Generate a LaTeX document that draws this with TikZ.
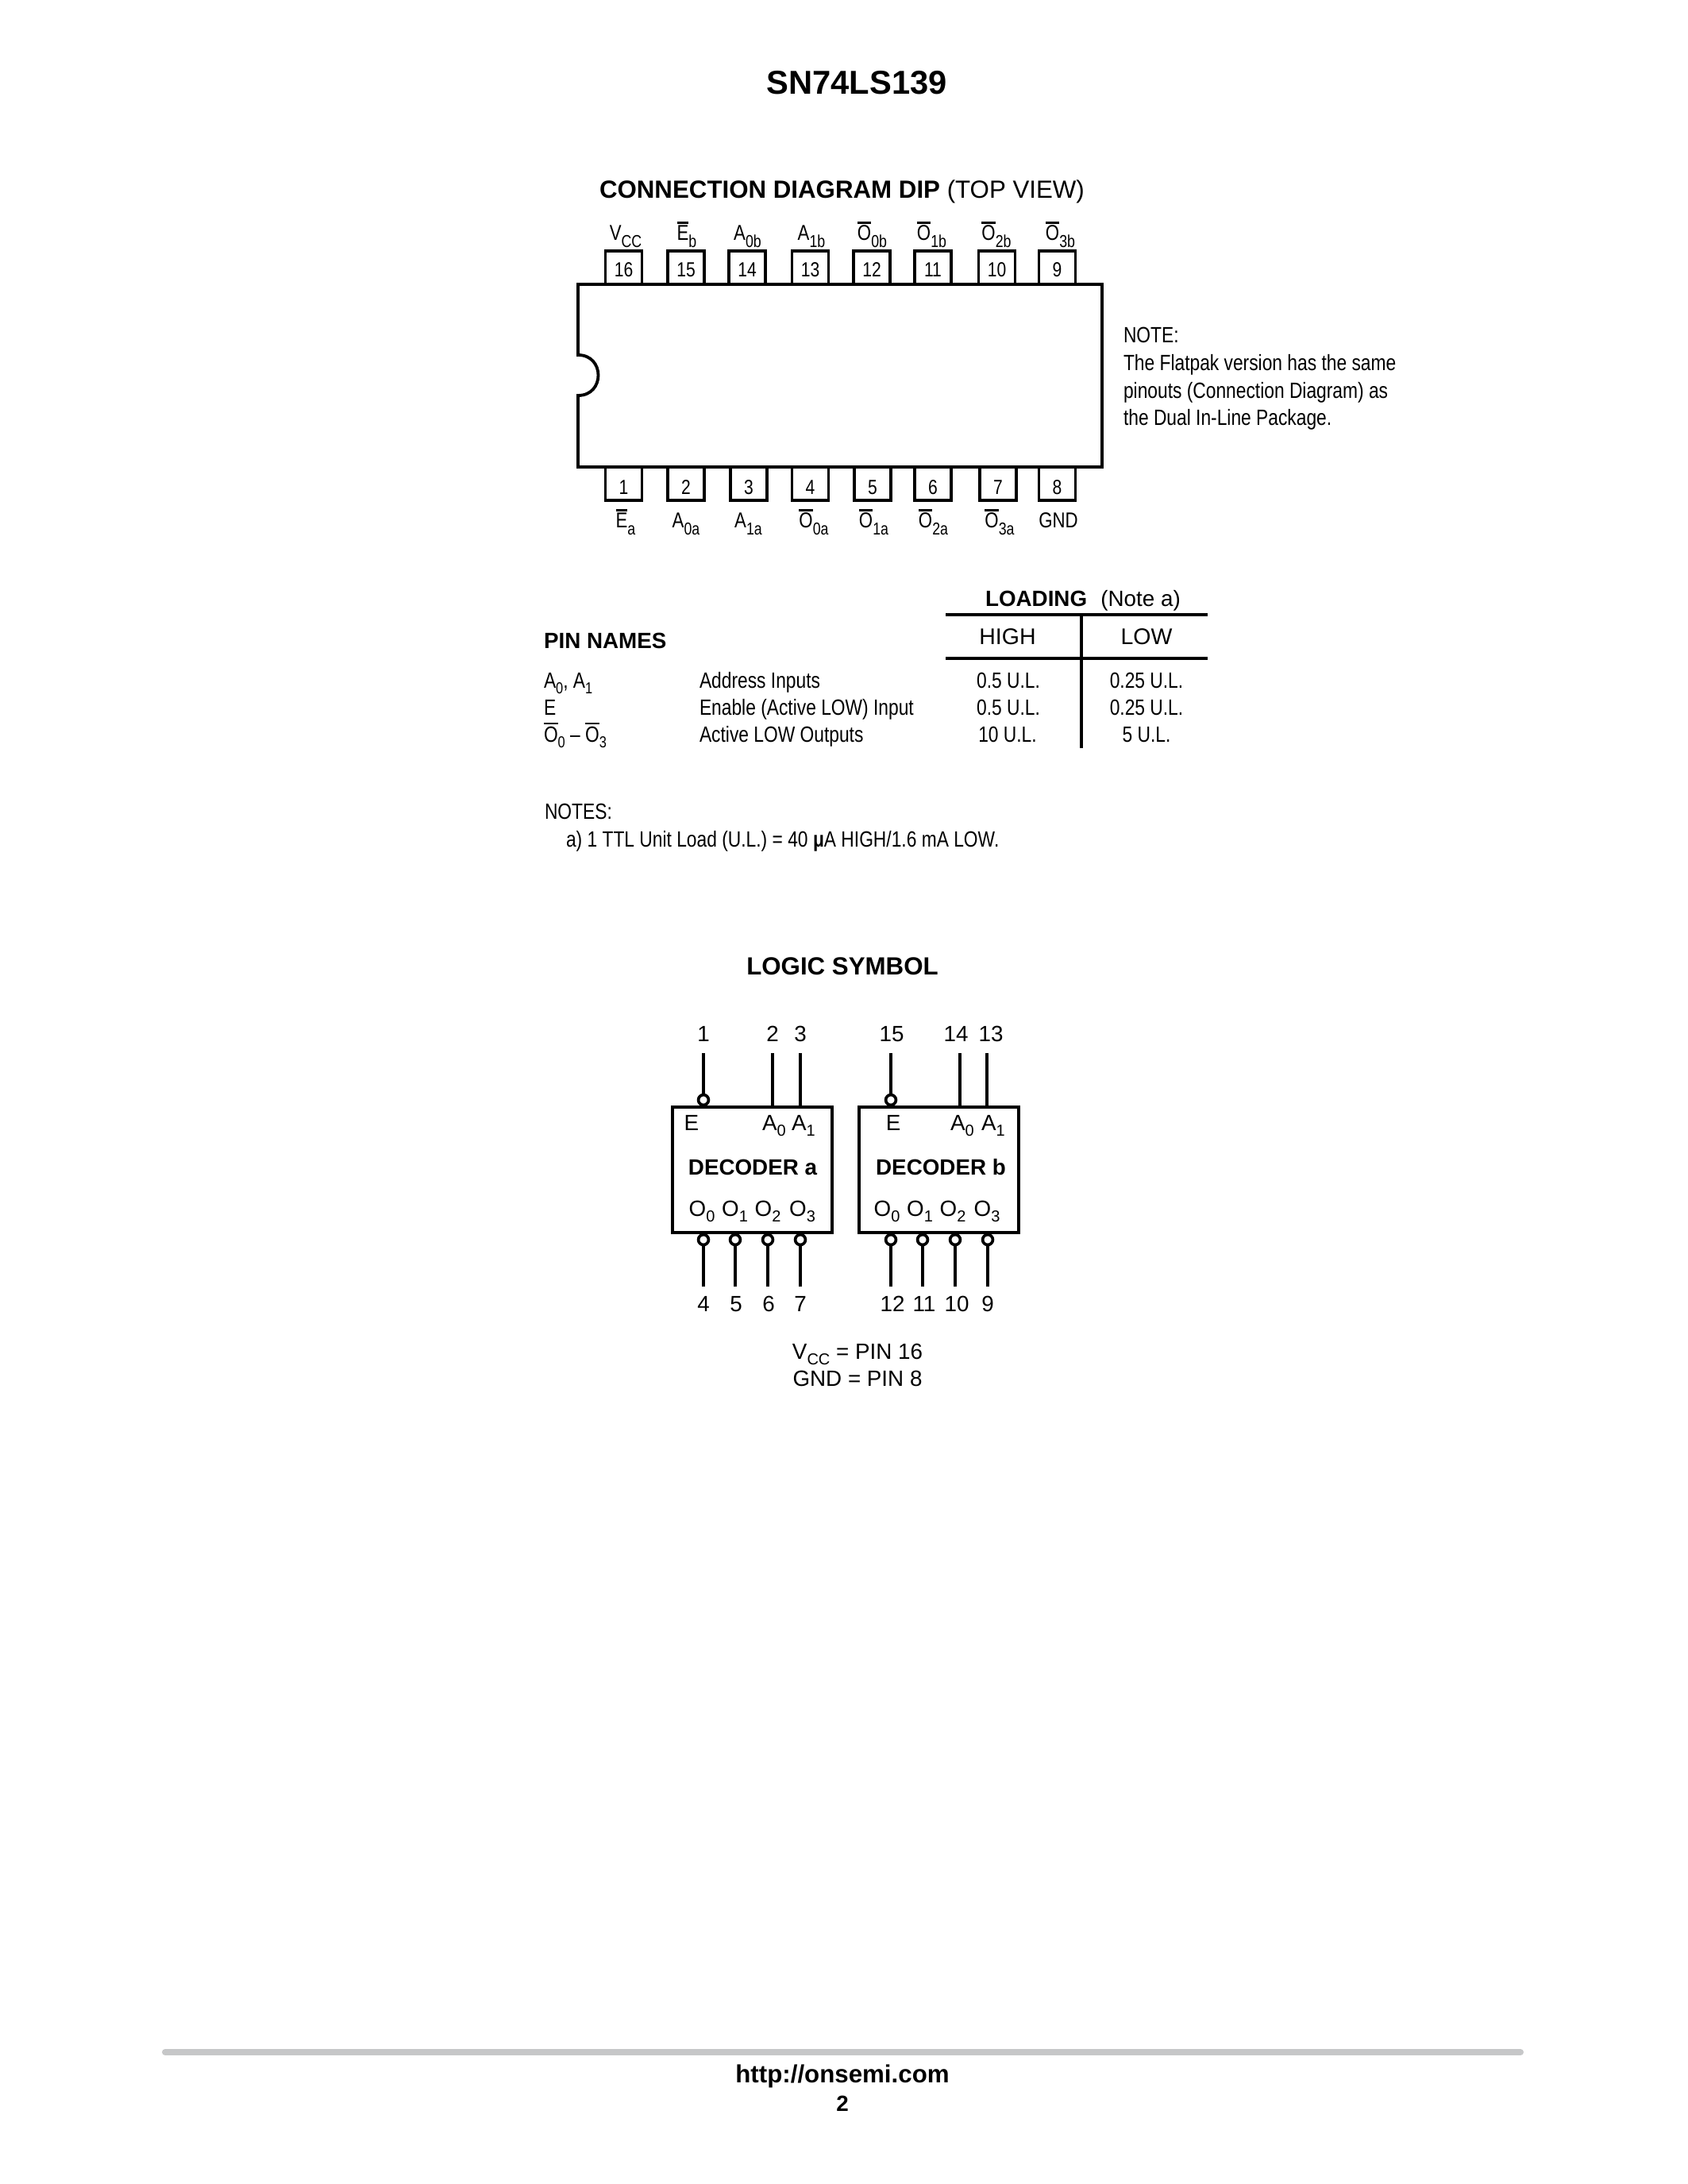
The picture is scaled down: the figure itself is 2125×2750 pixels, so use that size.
\documentclass[tikz,border=0pt]{standalone}
\usepackage{fontspec}
\setmainfont{Liberation Sans}
\newfontfamily\narrowfont[FakeStretch=0.82]{Liberation Sans}
\usepackage{tikz}
\usetikzlibrary{positioning}
\definecolor{rulegray}{HTML}{C6C7C8}
\newcommand{\ovl}[1]{\vbox{\hrule height 0.75pt\kern 0.7pt\hbox{#1}}}
\newcommand{\lowtxt}[1]{\raisebox{-0.27em}{\scalebox{0.72}{#1}}}
\newcommand{\lowname}[1]{\raisebox{-0.3em}{\scalebox{0.8}{#1}}}
\tikzset{
  plain text/.style={inner sep=0pt,outer sep=0pt,anchor=base west},
  mid text/.style={inner sep=0pt,outer sep=0pt,anchor=base},
  head text/.style={plain text,font=\fontsize{9bp}{9bp}\selectfont},
  pin name/.style={mid text,font=\narrowfont\fontsize{7.8bp}{7.8bp}\selectfont},
  small text/.style={plain text,font=\narrowfont\fontsize{8bp}{8bp}\selectfont},
  load text/.style={mid text,font=\narrowfont\fontsize{8bp}{8bp}\selectfont},
  sym text/.style={mid text,font=\fontsize{8bp}{8bp}\selectfont},
  pin box/.style={draw,line width=1.05bp,rectangle,minimum width=13.2bp,minimum height=12.6bp,inner sep=0pt,outer sep=0pt,text depth=0pt,font=\narrowfont\fontsize{7.4bp}{7.4bp}\selectfont},
  up pin/.style={pin box,text height=6.2bp},
  down pin/.style={pin box,text height=8.1bp},
  decoder box/.style={draw,line width=1.2bp,rectangle,minimum width=57.8bp,minimum height=45.4bp,inner sep=0pt,outer sep=0pt},
  bubble/.style={draw,line width=1.05bp,circle,fill=white,minimum size=3.7bp,inner sep=0pt,outer sep=0pt},
  signal/.style={line width=1.1bp}
}
\begin{document}
\begin{tikzpicture}[x=0.004in,y=-0.004in]
  \useasboundingbox (0,0) rectangle (2125,2750);

  % titles
  \node[mid text,font=\bfseries\fontsize{12bp}{12bp}\selectfont] (title) at (1079,119) {SN74LS139};
  \node[head text] (conntitle) at (755,250) {\textbf{CONNECTION DIAGRAM DIP} (TOP VIEW)};

  % dip pins, top row
  \node[up pin] (p16) at (785.5,338) {16};
  \node[up pin] (p15) at (864,338) {15};
  \node[up pin] (p14) at (941,338) {14};
  \node[up pin] (p13) at (1020.5,338) {13};
  \node[up pin] (p12) at (1098,338) {12};
  \node[up pin] (p11) at (1175,338) {11};
  \node[up pin] (p10) at (1255.5,338) {10};
  \node[up pin] (p9) at (1331.5,338) {9};

  % dip pins, bottom row
  \node[down pin] (p1) at (785.5,608) {1};
  \node[down pin] (p2) at (864,608) {2};
  \node[down pin] (p3) at (943,608) {3};
  \node[down pin] (p4) at (1020.5,608) {4};
  \node[down pin] (p5) at (1099,608) {5};
  \node[down pin] (p6) at (1175,608) {6};
  \node[down pin] (p7) at (1257,608) {7};
  \node[down pin] (p8) at (1331.5,608) {8};

  % package body
  \draw[line width=1.1bp,fill=white,line join=miter] (728,358) -- (1388,358) -- (1388,588) -- (728,588) -- (728,498)
    .. controls (762,498) and (762,447) .. (728,447) -- cycle;

  % pin names, top
  \node[pin name] (nvcc) at (788,303) {V\lowname{CC}};
  \node[pin name] (neb) at (865,303) {\ovl{E}\lowname{b}};
  \node[pin name] (na0b) at (941.5,303) {A\lowname{0b}};
  \node[pin name] (na1b) at (1022,303) {A\lowname{1b}};
  \node[pin name] (no0b) at (1098.5,303) {\ovl{O}\lowname{0b}};
  \node[pin name] (no1b) at (1173.5,303) {\ovl{O}\lowname{1b}};
  \node[pin name] (no2b) at (1255,303) {\ovl{O}\lowname{2b}};
  \node[pin name] (no3b) at (1335.5,303) {\ovl{O}\lowname{3b}};

  % pin names, bottom
  \node[pin name] (nea) at (788,665) {\ovl{E}\lowname{a}};
  \node[pin name] (na0a) at (864,665) {A\lowname{0a}};
  \node[pin name] (na1a) at (942.5,665) {A\lowname{1a}};
  \node[pin name] (no0a) at (1025,665) {\ovl{O}\lowname{0a}};
  \node[pin name] (no1a) at (1100.5,665) {\ovl{O}\lowname{1a}};
  \node[pin name] (no2a) at (1175.5,665) {\ovl{O}\lowname{2a}};
  \node[pin name] (no3a) at (1259,665) {\ovl{O}\lowname{3a}};
  \node[pin name] (ngnd) at (1333,665) {GND};

  % flatpak note
  \node[small text] (note0) at (1415,432) {NOTE:};
  \node[small text] (note1) at (1415,467) {The Flatpak version has the same};
  \node[small text] (note2) at (1415,502) {pinouts (Connection Diagram) as};
  \node[small text] (note3) at (1415,536) {the Dual In-Line Package.};

  % loading table
  \coordinate (lt1) at (1191,774);
  \coordinate (rt1) at (1521,774);
  \coordinate (lt2) at (1191,829);
  \coordinate (rt2) at (1521,829);
  \coordinate (vt) at (1362,774);
  \coordinate (vb) at (1362,942);
  \path[draw,line width=1.05bp]
    (lt1) edge (rt1)
    (lt2) edge (rt2)
    (vt) edge (vb);
  \node[head text,font=\fontsize{8bp}{8bp}\selectfont] (loading) at (1241,763) {\textbf{LOADING}\hspace{0.62em}(Note a)};
  \node[mid text,font=\fontsize{8.2bp}{8.2bp}\selectfont] (high) at (1269,812) {HIGH};
  \node[mid text,font=\fontsize{8.2bp}{8.2bp}\selectfont] (low) at (1444,812) {LOW};
  \node[head text,font=\bfseries\fontsize{8bp}{8bp}\selectfont] (pinnames) at (685,816) {PIN NAMES};

  \node[small text] (r1a) at (685,866) {A\lowtxt{0}, A\lowtxt{1}};
  \node[small text] (r1b) at (881,866) {Address Inputs};
  \node[load text] (r1c) at (1270,866) {0.5 U.L.};
  \node[load text] (r1d) at (1444,866) {0.25 U.L.};
  \node[small text] (r2a) at (685,900) {E};
  \node[small text] (r2b) at (881,900) {Enable (Active LOW) Input};
  \node[load text] (r2c) at (1270,900) {0.5 U.L.};
  \node[load text] (r2d) at (1444,900) {0.25 U.L.};
  \node[small text] (r3a) at (685,934) {\ovl{O}\lowtxt{0} – \ovl{O}\lowtxt{3}};
  \node[small text] (r3b) at (881,934) {Active LOW Outputs};
  \node[load text] (r3c) at (1269,934) {10 U.L.};
  \node[load text] (r3d) at (1444,934) {5 U.L.};

  \node[small text] (notes) at (686,1031) {NOTES:};
  \node[small text] (notea) at (713,1066) {a) 1 TTL Unit Load (U.L.) = 40 \textbf{μ}A HIGH/1.6 mA LOW.};

  % logic symbol
  \node[mid text,font=\bfseries\fontsize{9bp}{9bp}\selectfont] (logic) at (1061,1227) {LOGIC SYMBOL};
  \node[decoder box] (deca) at (947.5,1473) {};
  \node[decoder box] (decb) at (1182.5,1473) {};

  \node[bubble] (bea) at (886,1385) {};
  \node[bubble] (bo0a) at (886,1561) {};
  \node[bubble] (bo1a) at (926,1561) {};
  \node[bubble] (bo2a) at (967,1561) {};
  \node[bubble] (bo3a) at (1008,1561) {};
  \node[bubble] (beb) at (1122,1385) {};
  \node[bubble] (bo0b) at (1122,1561) {};
  \node[bubble] (bo1b) at (1162,1561) {};
  \node[bubble] (bo2b) at (1203,1561) {};
  \node[bubble] (bo3b) at (1244,1561) {};

  \coordinate (t1) at (886,1326);
  \coordinate (t2) at (973,1326);
  \coordinate (t3) at (1008,1326);
  \coordinate (t15) at (1122,1326);
  \coordinate (t14) at (1209,1326);
  \coordinate (t13) at (1243,1326);
  \coordinate (t4) at (886,1620);
  \coordinate (t5) at (926,1620);
  \coordinate (t6) at (967,1620);
  \coordinate (t7) at (1008,1620);
  \coordinate (t12) at (1122,1620);
  \coordinate (t11) at (1162,1620);
  \coordinate (t10) at (1203,1620);
  \coordinate (t9) at (1244,1620);

  \path[draw,signal]
    (t1) edge (bea)
    (t2) edge (t2 |- deca.north)
    (t3) edge (t3 |- deca.north)
    (t15) edge (beb)
    (t14) edge (t14 |- decb.north)
    (t13) edge (t13 |- decb.north)
    (bo0a) edge (t4)
    (bo1a) edge (t5)
    (bo2a) edge (t6)
    (bo3a) edge (t7)
    (bo0b) edge (t12)
    (bo1b) edge (t11)
    (bo2b) edge (t10)
    (bo3b) edge (t9);

  \node[sym text] (l1) at (886,1311) {1};
  \node[sym text] (l2) at (973,1311) {2};
  \node[sym text] (l3) at (1008,1311) {3};
  \node[sym text] (l15) at (1123,1311) {15};
  \node[sym text] (l14) at (1204,1311) {14};
  \node[sym text] (l13) at (1248,1311) {13};
  \node[sym text] (l4) at (886,1651) {4};
  \node[sym text] (l5) at (927,1651) {5};
  \node[sym text] (l6) at (968,1651) {6};
  \node[sym text] (l7) at (1008,1651) {7};
  \node[sym text] (l12) at (1124,1651) {12};
  \node[sym text] (l11) at (1164,1651) {11};
  \node[sym text] (l10) at (1205,1651) {10};
  \node[sym text] (l9) at (1244,1651) {9};

  \node[sym text] (ea) at (871,1423) {E};
  \node[sym text] (a0a) at (975,1423) {A\lowtxt{0}};
  \node[sym text] (a1a) at (1012,1423) {A\lowtxt{1}};
  \node[mid text,font=\bfseries\fontsize{8bp}{8bp}\selectfont] (nama) at (948,1479) {DECODER a};
  \node[sym text] (o0a) at (884,1531) {O\lowtxt{0}};
  \node[sym text] (o1a) at (925.5,1531) {O\lowtxt{1}};
  \node[sym text] (o2a) at (967,1531) {O\lowtxt{2}};
  \node[sym text] (o3a) at (1010.5,1531) {O\lowtxt{3}};

  \node[sym text] (eb) at (1125,1423) {E};
  \node[sym text] (a0b) at (1212,1423) {A\lowtxt{0}};
  \node[sym text] (a1b) at (1251,1423) {A\lowtxt{1}};
  \node[mid text,font=\bfseries\fontsize{8bp}{8bp}\selectfont] (namb) at (1185,1479) {DECODER b};
  \node[sym text] (o0b) at (1117,1531) {O\lowtxt{0}};
  \node[sym text] (o1b) at (1158.5,1531) {O\lowtxt{1}};
  \node[sym text] (o2b) at (1200,1531) {O\lowtxt{2}};
  \node[sym text] (o3b) at (1243,1531) {O\lowtxt{3}};

  \node[sym text] (vccline) at (1080,1711) {V\lowtxt{CC} = PIN 16};
  \node[sym text] (gndline) at (1080,1745) {GND = PIN 8};

  % footer
  \coordinate (fl) at (208,2584);
  \coordinate (fr) at (1915,2584);
  \draw[rulegray,line width=2.3bp,line cap=round] (fl) -- (fr);
  \node[mid text,font=\bfseries\fontsize{9bp}{9bp}\selectfont] (url) at (1061,2622) {http://onsemi.com};
  \node[mid text,font=\bfseries\fontsize{8bp}{8bp}\selectfont] (pageno) at (1061,2658) {2};
\end{tikzpicture}
\end{document}
